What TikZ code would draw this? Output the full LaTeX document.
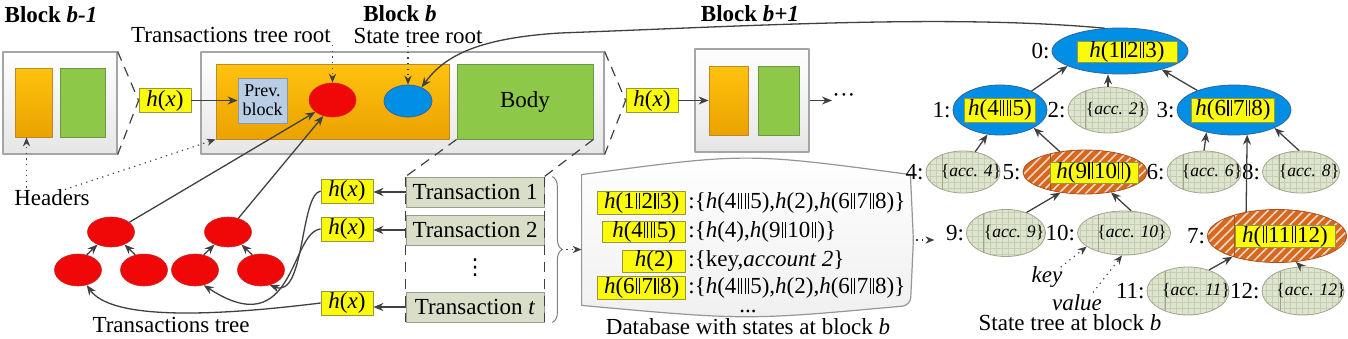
\documentclass[tikz,border=0pt]{standalone}
\usepackage{fontspec}
\setmainfont{Liberation Serif}
\newfontfamily\symfont{DejaVu Sans}
\usetikzlibrary{arrows.meta,shapes.geometric,patterns,patterns.meta,decorations.pathreplacing,calc}
\definecolor{arcol}{RGB}{64,64,64}
\definecolor{bkbd}{RGB}{165,165,165}
\definecolor{bkfl}{RGB}{230,230,230}
\definecolor{or1}{RGB}{255,194,14}
\definecolor{or2}{RGB}{235,162,0}
\definecolor{orbd}{RGB}{190,135,40}
\definecolor{grfl}{RGB}{141,200,72}
\definecolor{grbd}{RGB}{110,150,70}
\definecolor{blfl}{RGB}{0,143,228}
\definecolor{blbd}{RGB}{50,100,160}
\definecolor{rdfl}{RGB}{240,8,8}
\definecolor{rdbd}{RGB}{200,40,40}
\definecolor{pvfl}{RGB}{185,205,229}
\definecolor{pvbd}{RGB}{140,150,165}
\definecolor{ylfl}{RGB}{250,250,10}
\definecolor{ylbd}{RGB}{150,150,60}
\definecolor{txfl}{RGB}{216,222,200}
\definecolor{txbd}{RGB}{150,155,140}
\definecolor{lffl}{RGB}{222,228,206}
\definecolor{lfbd}{RGB}{160,165,140}
\definecolor{lfgr}{RGB}{196,206,176}
\definecolor{htfl}{RGB}{214,104,32}
\definecolor{htbd}{RGB}{170,80,30}
\definecolor{dbbd}{RGB}{150,150,150}
\newcommand\dvl{\kern0.06em\rule[-0.03em]{0.045em}{0.72em}\kern0.09em\rule[-0.03em]{0.045em}{0.72em}\kern0.06em}
\newcommand\hh[1]{\textit{h}(#1)}
\newcommand\hxx{\textit{h}(\textit{x})}
\newcommand\accl[1]{\makebox[0pt]{\hspace*{8pt}\{\textit{acc. #1}\}}}
\newcommand\mainfs{\fontsize{11.5}{13}\selectfont}
\begin{document}
\begin{tikzpicture}[x=0.5pt,y=-0.5pt, font=\mainfs, line join=round,
 box/.style={rectangle, inner sep=0pt},
 blk/.style={box, draw=bkbd, top color=white, bottom color=bkfl, line width=0.6pt},
 org/.style={box, draw=orbd, top color=or1, bottom color=or2, line width=0.4pt},
 grn/.style={box, draw=grbd, fill=grfl, line width=0.4pt},
 ylw/.style={rectangle, draw=ylbd, fill=ylfl, line width=0.4pt, inner xsep=2pt, inner ysep=0pt, minimum height=12pt},
 rdel/.style={ellipse, draw=rdbd, fill=rdfl, line width=0.3pt, inner sep=0pt, minimum width=23.5pt, minimum height=16pt},
 blel/.style={ellipse, draw=blbd, fill=blfl, line width=0.4pt, inner sep=0pt},
 leaf/.style={ellipse, draw=lfbd, fill=lffl, line width=0.4pt, inner sep=0pt, font=\fontsize{8.8}{10}\selectfont,
   path picture={\fill[pattern=grid, pattern color=lfgr] (path picture bounding box.south west) rectangle (path picture bounding box.north east);
     \draw[lfbd, line width=0.4pt] ($(path picture bounding box.north west)!0.22!(path picture bounding box.north east)$) -- ($(path picture bounding box.south west)!0.22!(path picture bounding box.south east)$);}},
 hatch/.style={ellipse, draw=htbd, fill=htfl, line width=0.4pt, inner sep=0pt,
   path picture={\fill[pattern={Lines[angle=45,distance=3.2pt,line width=0.8pt]}, pattern color=white!75!htfl] (path picture bounding box.south west) rectangle (path picture bounding box.north east);
     \draw[htbd, line width=0.4pt] ($(path picture bounding box.north west)!#1!(path picture bounding box.north east)$) -- ($(path picture bounding box.south west)!#1!(path picture bounding box.south east)$);}},
 txb/.style={rectangle, draw=txbd, fill=txfl, minimum width=69pt, minimum height=15pt, inner sep=0pt},
 arr/.style={draw=arcol, line width=0.65pt, -{Stealth[length=5pt,width=4pt]}},
 dotarr/.style={draw=arcol, line width=0.6pt, dash pattern=on 0.6pt off 2.2pt, -{Stealth[length=4.5pt,width=3.6pt]}},
 dsh/.style={draw=arcol, line width=0.6pt, dash pattern=on 5pt off 3.5pt},
 every label/.style={font=\mainfs, inner sep=0.8pt, text=black},
 label distance=0pt,
 ttl/.style={font=\mainfs\bfseries},
 txt/.style={inner sep=1pt}]
\useasboundingbox (0,0) rectangle (1348,338);

% titles
\node[ttl] (tb1) at (51,15) {Block \textit{b-1}};
\node[ttl] (tb) at (400,14) {Block \textit{b}};
\node[ttl] (tb2) at (750,14) {Block \textit{b+1}};

% block b-1
\node[blk, minimum width=57pt, minimum height=51pt] (bm1) at (60,103) {};
\node[org, minimum width=18.5pt, minimum height=34.5pt] (bm1o) at (33.5,102.5) {};
\node[grn, minimum width=22.5pt, minimum height=34.5pt] (bm1g) at (82.5,102.5) {};
\node[ylw, minimum width=26pt] (hx1) at (165,100.5) {\hxx};

% block b
\node[blk, minimum width=201.5pt, minimum height=51pt] (bb) at (402.5,103) {};
\node[org, minimum width=116.5pt, minimum height=37.5pt] (bo) at (332.5,101.5) {};
\node[box, draw=pvbd, fill=pvfl, minimum width=24.5pt, minimum height=22.5pt, align=center, font=\fontsize{9}{9.5}\selectfont] (prev) at (262.5,100.5) {Prev.\\block};
\node[rdel, minimum height=17pt] (txr) at (332.5,100) {};
\node[blel, minimum width=24pt, minimum height=16pt] (str) at (408,101) {};
\node[grn, minimum width=68pt, minimum height=37.5pt] (body) at (525,101.5) {Body};
\node[ylw, minimum width=26pt] (hx2) at (652,100.5) {\hxx};

% block b+1
\node[blk, minimum width=57pt, minimum height=51.5pt] (bp1) at (752,100.5) {};
\node[org, minimum width=19.5pt, minimum height=34.5pt] (bp1o) at (728.5,100.5) {};
\node[grn, minimum width=20.5pt, minimum height=34.5pt] (bp1g) at (778.5,100.5) {};
\node[anchor=west, inner sep=0pt] (more) at (832,98) {···};

\draw[arr] (hx1.east) -- (prev.west);
\draw[arr] (hx2.east) -- (bp1o.west);
\draw[arr] (bp1.east) -- (bp1.east -| more.west);
\draw[dsh] (bm1.north east) -- (hx1.west) -- (bm1.south east);
\draw[dsh] (bb.north east) -- (hx2.west) -- (bb.south east);

% top labels
\node[txt] (ttr) at (231,35) {Transactions tree root};
\node[txt] (stl) at (418,36) {State tree root};
\draw[dotarr] (txr.north |- ttr.south) -- (txr.north);
\draw[dotarr] (str.north |- stl.south) -- (str.north);

% headers
\node[txt] (hdr) at (52,198) {Headers};
\draw[dotarr] ($(bm1o.south |- hdr.north)+(-7,0)$) -- ($(bm1o.south)+(-7,0)$);
\draw[dotarr] ($(hdr.north)+(13,2)$) -- (bo.south west);

% transactions
\node[txb] (t1) at (475,192) {Transaction 1};
\node[txb] (t2) at (475,230) {Transaction 2};
\node[inner sep=0pt, font=\symfont\fontsize{11}{12}\selectfont] (vd) at (475,268) {⋮};
\node[txb] (tt) at (475,307) {Transaction \textit{t}};
\draw[dsh] (body.south west) -- (t1.north west);
\draw[dsh] (body.south east) -- (t1.north east);
\draw[dsh] (t1.north west) -- (tt.south west);
\draw[dsh] (t1.north east) -- (tt.south east);
\node[ylw, minimum width=26pt] (hxa) at (347,191) {\hxx};
\node[ylw, minimum width=26pt] (hxb) at (347,229) {\hxx};
\node[ylw, minimum width=26pt] (hxc) at (347,303) {\hxx};
\draw[arr] (t1.west) -- (t1.west -| hxa.east);
\draw[arr] (t2.west) -- (t2.west -| hxb.east);
\draw[arr] (tt.west) -- (tt.west -| hxc.east);

% transactions tree
\node[rdel, minimum height=15pt] (r1) at (111,232) {};
\node[rdel] (l1a) at (78,270) {};
\node[rdel] (l1b) at (144,270) {};
\node[rdel, minimum height=15pt] (r2) at (228,232) {};
\node[rdel] (l2a) at (195,270) {};
\node[rdel] (l2b) at (261,270) {};
\draw[arr] (l1a.60) -- (r1.223);
\draw[arr] (l1b.120) -- (r1.317);
\draw[arr] (l2a.60) -- (r2.223);
\draw[arr] (l2b.120) -- (r2.317);
\draw[arr] (r1.28) -- (txr.215);
\draw[arr] (r2.53) -- (txr.240);
\draw[arr] (hxa.west) .. controls (300,195) and (305,298) .. (l2b.300);
\draw[arr] (hxb.west) .. controls (290,232) and (295,345) .. (l2a.300);
\draw[arr] (hxc.west) .. controls (200,318) and (110,318) .. (l1a.300);
\node[txt] (ttree) at (171,325) {Transactions tree};

% brace
\coordinate (bra) at ($(t1.north east)+(8,0)$);
\coordinate (brb) at ($(tt.south east)+(8,0)$);
\draw[draw=gray, line width=0.5pt, decorate, decoration={brace, amplitude=5pt}] (bra) -- (brb);
\coordinate (brt) at ($(bra)!0.5!(brb)+(14,0)$);

% database
\node[minimum width=164pt, minimum height=65pt, inner sep=0pt] (db) at (746,240) {};
\draw[draw=dbbd, line width=0.6pt, top color=white, bottom color=gray!12] (db.north west) .. controls ($(db.north)+(0,-22)$) .. (db.north east) [rounded corners=4pt] -- ($(db.east)+(3,0)$) -- (db.south east) [sharp corners] .. controls ($(db.south)+(0,15)$) .. (db.south west) -- cycle;
\draw[dotarr] (brt) -- (brt -| db.west);
\node[ylw, anchor=east, minimum width=44pt, minimum height=11.5pt] (k1) at (686,203) {\hh{1\dvl 2\dvl 3}};
\node[anchor=west, inner sep=0pt] (v1) at (688,203) {:\{\hh{4\dvl\dvl 5},\hh{2},\hh{6\dvl 7\dvl 8}\}};
\node[ylw, anchor=east, minimum width=41.5pt, minimum height=10.5pt] (k2) at (686,232) {\hh{4\dvl\dvl 5}};
\node[anchor=west, inner sep=0pt] (v2) at (688,232) {:\{\hh{4},\hh{9\dvl 10\dvl}\}};
\node[ylw, anchor=east, minimum width=31.5pt, minimum height=11pt] (k3) at (686,261) {\hh{2}};
\node[anchor=west, inner sep=0pt] (v3) at (688,261) {:\{key,\textit{account 2}\}};
\node[ylw, anchor=east, minimum width=44pt, minimum height=11.5pt] (k4) at (686,288) {\hh{6\dvl 7\dvl 8}};
\node[anchor=west, inner sep=0pt] (v4) at (688,288) {:\{\hh{4\dvl\dvl 5},\hh{2},\hh{6\dvl 7\dvl 8}\}};
\node[anchor=base, inner sep=0pt] (dd) at (748,312) {...};
\node[txt] (dbc) at (748,327) {Database with states at block \textit{b}};
\coordinate (dbr) at ($(db.east)+(24,0)$);
\draw[dotarr] ($(db.east)+(6,0)$) -- (dbr);

% state tree
\node[blel, minimum width=68pt, minimum height=23pt, label={180:{0:}}] (s0) at (1120,51) {};
\node[ylw, minimum width=50pt, minimum height=10pt] (y0) at (1127,52) {\hh{1\dvl 2\dvl 3}};
\node[blel, minimum width=47pt, minimum height=25pt, label={180:{1:}}] (s1) at (1000,110) {};
\node[ylw, minimum width=35pt, minimum height=12pt] (y1) at (1000,110) {\hh{4\dvl\dvl 5}};
\node[leaf, minimum width=40pt, minimum height=23pt, label={180:{2:}}] (s2) at (1108,110) {\accl{2}};
\node[blel, minimum width=57pt, minimum height=25pt, label={180:{3:}}] (s3) at (1234,110) {};
\node[ylw, minimum width=38.5pt, minimum height=12pt] (y3) at (1233,110) {\hh{6\dvl 7\dvl 8}};
\node[leaf, minimum width=37pt, minimum height=21pt, label={180:{4:}}] (s4) at (963,172) {\accl{4}};
\node[hatch=0.22, minimum width=62pt, minimum height=22pt, label={180:{5:}}] (s5) at (1085,172) {};
\node[ylw, minimum width=44pt, minimum height=10.5pt] (y5) at (1094,172.5) {\hh{9\dvl 10\dvl}};
\node[leaf, minimum width=37pt, minimum height=21pt, label={180:{6:}}] (s6) at (1204,172) {\accl{6}};
\node[leaf, minimum width=38.5pt, minimum height=21pt, label={180:{8:}}] (s8) at (1301,172) {\accl{8}};
\node[leaf, minimum width=39.5pt, minimum height=23.5pt, label={180:{9:}}] (s9) at (1006,233) {\accl{9}};
\node[leaf, minimum width=46.5pt, minimum height=22pt, label={180:{10:}}] (s10) at (1124,233) {\accl{10}};
\node[hatch=0.19, minimum width=69.5pt, minimum height=26.5pt, label={180:{7:}}] (s7) at (1277,236) {};
\node[ylw, minimum width=50pt, minimum height=11pt] (y7) at (1285,236.5) {\hh{\dvl 11\dvl 12}};
\node[leaf, minimum width=41pt, minimum height=24pt, label={180:{11:}}] (s11) at (1188,291) {\accl{11}};
\node[leaf, minimum width=41pt, minimum height=24pt, label={180:{12:}}] (s12) at (1303,291) {\accl{12}};

\draw[arr] (s1.31) -- (s0.196);
\draw[arr] (s2.north) -- (s2.north |- s0.south);
\draw[arr] (s3.152) -- (s0.336);
\draw[arr] (s4.59) -- (s1.243);
\draw[arr] (s5.141) -- (s1.332);
\draw[arr] (s6.north) -- (s3.219);
\draw[arr] (s8.95) -- (s3.336);
\draw[arr] (s7.142) -- (s3.298);
\draw[arr] (s9.45) -- (s5.220);
\draw[arr] (s10.72) -- (s5.322);
\draw[arr] (s11.45) -- (s7.205);
\draw[arr] (s12.95) -- (s7.306);

\node[txt] (key) at (1047,277) {\textit{key}};
\node[txt] (val) at (1077,303) {\textit{value}};
\draw[dotarr] ($(key.north east)+(-4,3)$) -- (s10.200);
\draw[dotarr] ($(val.north)+(16,0)$) -- (s10.265);
\node[txt] (stc) at (1070,323) {State tree at block \textit{b}};

% long curve from state root to state tree root in header
\coordinate (cm) at (560,33);
\draw[arr] (s0.124) .. controls (950,14) and (750,26) .. (cm) .. controls (480,38) and (445,55) .. (str.45);
\end{tikzpicture}
\end{document}
